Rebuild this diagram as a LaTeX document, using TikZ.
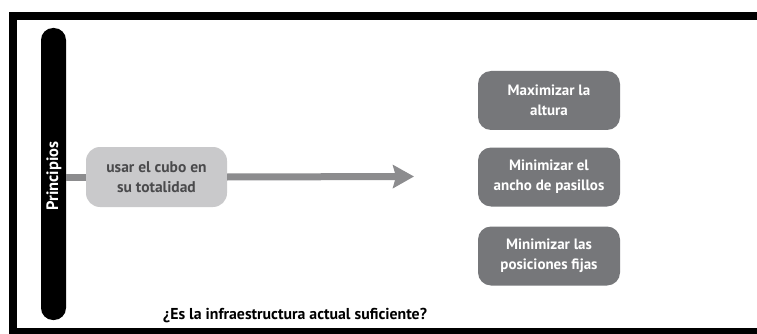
\documentclass[tikz,border=0pt]{standalone}
\usepackage{fontspec}
\setmainfont{PT Sans}
\usetikzlibrary{arrows.meta}
\definecolor{darkbox}{HTML}{76777A}
\definecolor{lightbox}{HTML}{C9C9CB}
\definecolor{linegray}{HTML}{8C8C8E}
\definecolor{lighttext}{HTML}{4A4A4C}
\tikzset{
  darkstep/.style={rectangle, rounded corners=13pt, fill=darkbox, text=white,
    minimum width=142pt, minimum height=59pt, align=center, inner sep=0pt,
    font=\fontsize{15}{20}\selectfont\bfseries},
  lightstep/.style={rectangle, rounded corners=14pt, fill=lightbox, text=lighttext,
    minimum width=141pt, minimum height=60pt, align=center, inner sep=0pt,
    font=\fontsize{15.5}{20}\selectfont\bfseries},
  pillbar/.style={rectangle, rounded corners=12pt, fill=black, text=white,
    minimum width=25pt, minimum height=292pt, inner sep=0pt},
  flow/.style={draw=linegray, line width=7pt, -{Stealth[inset=3pt,width=23pt,length=21pt]}},
  flowplain/.style={draw=linegray, line width=7pt},
}
\begin{document}
\begin{tikzpicture}[x=1pt,y=-1pt]
\useasboundingbox (0,0) rectangle (757,334);
\fill[white] (0,0) rectangle (757,334);
% frame
\fill[black] (9,12) rectangle (757,20);
\fill[black] (9,12) rectangle (17,334);
\fill[black] (9,328) rectangle (757,334);
% pill
\node[pillbar] (pill) at (53.5,174) {};
\node[rotate=90, text=white, font=\fontsize{16.5}{16.5}\selectfont\bfseries] (plabel) at (54,176) {Principios};
% boxes
\node[lightstep] (use) at (156.5,177) {usar el cubo en\\su totalidad};
\coordinate (tip) at (414,176.5);
\draw[flowplain] (pill.east |- use.west) -- (use.west);
\draw[flow] (use.east) -- (tip);
\node[darkstep] (b1) at (549,100.5) {Maximizar la\\altura};
\node[darkstep] (b2) at (549,177) {Minimizar el\\ancho de pasillos};
\node[darkstep] (b3) at (549,256) {Minimizar las\\posiciones fijas};
\node[font=\fontsize{15.8}{15.8}\selectfont\bfseries, anchor=base] (q) at (295,319) {¿Es la infraestructura actual suficiente?};
\end{tikzpicture}
\end{document}
